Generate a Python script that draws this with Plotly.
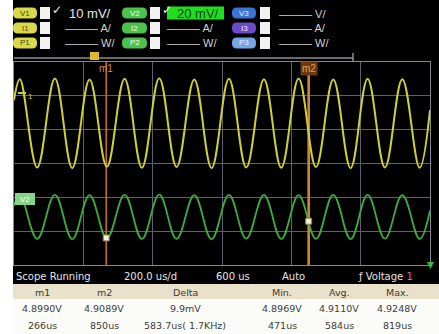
import plotly.graph_objects as go

# ---------------- data ----------------
time_us = [0, 17, 67, 118, 168, 218, 268, 319, 369, 419, 469, 520, 570,
           620, 670, 721, 771, 821, 871, 921, 971, 1020, 1070, 1120, 1170, 1200]
v1_volts = [4.9179, 4.9241, 4.8980, 4.9243, 4.8978, 4.9240, 4.8982, 4.9242, 4.8979,
            4.9244, 4.8981, 4.9240, 4.8978, 4.9242, 4.8980, 4.9241, 4.8979, 4.9243,
            4.8981, 4.9240, 4.8978, 4.9242, 4.8980, 4.9241, 4.8979, 4.9150]
v2_volts = [4.9180, 4.9244, 4.8985, 4.9245, 4.8983, 4.9243, 4.8988, 4.9244, 4.8984,
            4.9246, 4.8985, 4.9243, 4.8983, 4.9245, 4.8986, 4.9244, 4.8984, 4.9243,
            4.8985, 4.9245, 4.8983, 4.9244, 4.8986, 4.9243, 4.8984, 4.9152]
marker_names = ["m1", "m2"]
marker_t = [266, 850]
marker_v = [4.8990, 4.9089]

table_head = ["m1", "m2", "Delta", "Min.", "Avg.", "Max."]
table_volt = ["4.8990V", "4.9089V", "9.9mV", "4.8969V", "4.9110V", "4.9248V"]
table_time = ["266us", "850us", "583.7us( 1.7KHz)", "471us", "584us", "819us"]

status_texts = ["Scope Running", "200.0 us/d", "600 us", "Auto"]
badge_rows = [["V1", "V2", "V3"], ["I1", "I2", "I3"], ["P1", "P2", "P3"]]
scale_rows = [["10 mV/", "20 mV/", "V/"], ["A/", "A/", "A/"], ["W/", "W/", "W/"]]

# ---------------- layout helpers ----------------
W, H = 439, 334
def X(px): return px / W
def Y(py): return 1 - py / H

shapes, anns = [], []

def rect(x0, y0, x1, y1, fill, layer="below", lc=None, lw=0):
    shapes.append(dict(type="rect", xref="paper", yref="paper",
                       x0=X(x0), x1=X(x1), y0=Y(y1), y1=Y(y0),
                       fillcolor=fill, line=dict(width=lw, color=lc or fill), layer=layer))

def rrect(x0, y0, x1, y1, r, fill, layer="above"):
    def p(x, y): return f"{X(x):.5f},{Y(y):.5f}"
    path = (f"M{p(x0+r,y0)} L{p(x1-r,y0)} Q{p(x1,y0)} {p(x1,y0+r)} L{p(x1,y1-r)} "
            f"Q{p(x1,y1)} {p(x1-r,y1)} L{p(x0+r,y1)} Q{p(x0,y1)} {p(x0,y1-r)} "
            f"L{p(x0,y0+r)} Q{p(x0,y0)} {p(x0+r,y0)} Z")
    shapes.append(dict(type="path", xref="paper", yref="paper", path=path,
                       fillcolor=fill, line=dict(width=0), layer=layer))

def line(x0, y0, x1, y1, color, width=1, layer="above"):
    shapes.append(dict(type="line", xref="paper", yref="paper",
                       x0=X(x0), x1=X(x1), y0=Y(y0), y1=Y(y1),
                       line=dict(color=color, width=width), layer=layer))

def txt(s, x, y, size, color, anchor="left", family="DejaVu Sans", bg="rgba(0,0,0,0)"):
    anns.append(dict(text=s, x=X(x), y=Y(y), xref="paper", yref="paper",
                     xanchor=anchor, yanchor="middle", showarrow=False,
                     font=dict(size=size, color=color, family=family),
                     bgcolor=bg, borderpad=0))

# screen background
rect(13, 0, 439, 284, "#000000")
# table
rect(13, 284, 439, 299, "#e9e1c9")
rect(13, 299, 439, 334, "#fbfbf8")

# ---------------- header channel panel ----------------
row_y = [13, 28, 43]
col_badge = [(13, 37), (122, 147), (232, 256)]
col_box = [(40, 50), (150, 160), (260, 270)]
col_text = [68, 170, 282]
badge_fill = [["#d9d74a", "#4cc24c", "#3a74d6"],
              ["#d9d74a", "#4cc24c", "#6a4ac8"],
              ["#d9d74a", "#4cc24c", "#76a6e6"]]
badge_txt = ["#4a4810", "#eaffea", "#e8f0ff"]
for r, yc in enumerate(row_y):
    for c in range(3):
        bx0, bx1 = col_badge[c]
        rrect(bx0, yc - 5.5, bx1, yc + 5.5, 5, badge_fill[r][c])
        txt(badge_rows[r][c], (bx0 + bx1) / 2, yc, 8, badge_txt[c], anchor="center",
            family="Liberation Sans")
        kx0, kx1 = col_box[c]
        rect(kx0, yc - 6, kx1, yc + 6, "#f2f2f2", layer="above")
        label = scale_rows[r][c]
        if r == 0 and c == 0:
            txt(label, col_text[c], yc + 0.5, 13, "#e6e6e6", family="Liberation Sans")
        elif r == 0 and c == 1:
            rect(167, yc - 6.5, 224, yc + 6.5, "#1ee01e", layer="above")
            txt(label, 176, yc + 0.5, 13, "#0c3a0c", family="Liberation Sans")
        else:
            txt("\u2014\u2014\u2014 " + label, col_text[c] - 4, yc + 0.5, 11, "#d0d0d0",
                family="Liberation Sans")
for c in (0, 1):
    txt("\u2713", col_box[c][1] + 1, 10, 12, "#f0f0f0", family="DejaVu Sans")

# time position bar on top of the grid
line(14, 58, 353, 58, "#8c8c94", 1.5)
line(353, 53, 353, 62, "#8c8c94", 1.5)
rect(90, 52, 99, 60, "#e0b830", layer="above")

# yellow channel tag and green V2 tag
line(18, 93, 26, 93, "#cfcf3a", 2)
txt("1", 27, 96, 8, "#cfcf3a", family="Liberation Sans")
rect(15, 193, 35, 205, "#86d486", layer="above")
txt("V2", 25, 199, 8, "#f4fff4", anchor="center", family="Liberation Sans")

# green reference tick at the bottom right
shapes.append(dict(type="path", xref="paper", yref="paper",
                   path=f"M{X(427)},{Y(262)} L{X(434)},{Y(262)} L{X(430.5)},{Y(269)} Z",
                   fillcolor="#30c030", line=dict(width=0), layer="above"))

# ---------------- status bar ----------------
status_x = [15, 123, 215, 281]
for s, x in zip(status_texts, status_x):
    txt(s, x, 276, 10, "#e4e4e4")
txt("\u0192 Voltage <span style='color:#e060c0'>1</span>", 357, 276, 10, "#e4e4e4")

# ---------------- marker table ----------------
col_c = [42, 104, 185, 282, 339, 397]
for i in range(6):
    txt(table_head[i], col_c[i], 292, 9.5, "#3c3c3c", anchor="center")
    txt(table_volt[i], col_c[i], 308, 9.5, "#3c3c3c", anchor="center")
    txt(table_time[i], col_c[i], 325, 9.5, "#3c3c3c", anchor="center")

# ---------------- traces ----------------
fig = go.Figure()
fig.add_trace(go.Scatter(x=time_us, y=v1_volts, yaxis="y2", mode="lines",
                         line=dict(color="#cfcf3a", width=2, shape="spline", smoothing=1.1),
                         hoverinfo="skip"))
fig.add_trace(go.Scatter(x=time_us, y=v2_volts, yaxis="y3", mode="lines",
                         line=dict(color="#3cae3c", width=1.8, shape="spline", smoothing=1.1),
                         hoverinfo="skip"))
mk_color = ["#d27222", "#cc8a2a"]
mk_width = [1.5, 2.6]
for i in range(2):
    fig.add_trace(go.Scatter(x=[marker_t[i], marker_t[i]], y=[0, 6], yaxis="y", mode="lines",
                             line=dict(color=mk_color[i], width=mk_width[i]), hoverinfo="skip"))
fig.add_trace(go.Scatter(x=marker_t, y=marker_v, yaxis="y3", mode="markers",
                         marker=dict(symbol="square", size=6, color="#f2eecf",
                                     line=dict(color="#7c8060", width=1)),
                         hoverinfo="skip"))

# marker labels
anns.append(dict(text=marker_names[0], x=marker_t[0], y=Y(68), xref="x", yref="paper",
                 showarrow=False, xanchor="center", yanchor="middle",
                 font=dict(size=10, color="#d88a3a", family="Liberation Sans")))
anns.append(dict(text=marker_names[1], x=marker_t[1], y=Y(68), xref="x", yref="paper",
                 showarrow=False, xanchor="center", yanchor="middle", bgcolor="#6a3a12",
                 borderpad=1, font=dict(size=10, color="#e8a04a", family="Liberation Sans")))

grid = "#5c6070"
fig.update_layout(
    width=W, height=H, margin=dict(l=0, r=0, t=0, b=0),
    paper_bgcolor="#ffffff", plot_bgcolor="#000000", showlegend=False,
    xaxis=dict(domain=[X(14), X(430)], range=[0, 1200], dtick=200, tick0=0,
               showgrid=True, gridcolor=grid, gridwidth=1, zeroline=False,
               showticklabels=False, ticks="", showline=True, linecolor="#858894",
               linewidth=1, mirror=True, fixedrange=True),
    yaxis=dict(domain=[Y(265), Y(62)], range=[0, 6], dtick=1, tick0=0,
               showgrid=True, gridcolor=grid, gridwidth=1, zeroline=False,
               showticklabels=False, ticks="", showline=True, linecolor="#858894",
               linewidth=1, mirror=True, fixedrange=True),
    yaxis2=dict(overlaying="y", range=[4.86917, 4.92917], visible=False, fixedrange=True),
    yaxis3=dict(overlaying="y", range=[4.8830, 5.0030], visible=False, fixedrange=True),
    shapes=shapes, annotations=anns,
)

fig.write_html("out.html", config={"displayModeBar": False},
               post_script="document.body.style.margin='0';document.body.style.overflow='hidden';")
